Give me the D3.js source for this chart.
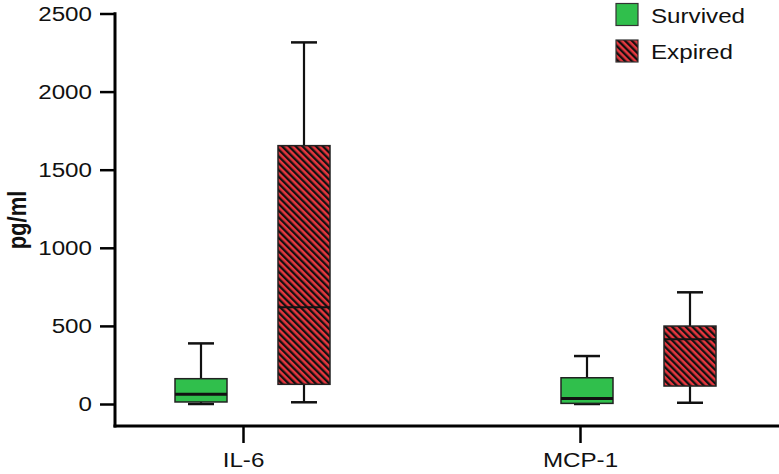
<!DOCTYPE html>
<html>
<head>
<meta charset="utf-8">
<script src="https://cdn.jsdelivr.net/npm/d3@7"></script>
<style>
  body { margin: 0; background: #fff; }
  svg { display: block; font-family: "Liberation Sans", Arial, sans-serif; }
</style>
</head>
<body>
<div id="chart"></div>
<script>
const width = 779;
const height = 474;

// data (pg/ml)
const categories = ['IL-6', 'MCP-1'];
const series = ['Survived', 'Expired'];
const yTicks = [0, 500, 1000, 1500, 2000, 2500];
// [min, q1, median, q3, max] per category
const survived = [[0, 13, 62, 162, 388], [0, 4, 36, 168, 307]];
const expired = [[11, 126, 619, 1654, 2315], [8, 115, 414, 499, 715]];

const colors = { Survived: '#30bf4c', Expired: '#e6373e' };
const stretch = 1.18; // the picture's text is a bit wide
const fontSize = 20.5;

const svg = d3.select('#chart')
  .append('svg')
  .attr('width', width)
  .attr('height', height);

// hatch for the expired boxes
const defs = svg.append('defs');
const pat = defs.append('pattern')
  .attr('id', 'hatch')
  .attr('patternUnits', 'userSpaceOnUse')
  .attr('width', 4.8)
  .attr('height', 10)
  .attr('patternTransform', 'rotate(-45)');
pat.append('rect').attr('width', 4.8).attr('height', 10).attr('fill', colors.Expired);
pat.append('rect').attr('width', 2.3).attr('height', 10).attr('fill', '#111');

const yScale = d3.scaleLinear().domain([0, 2500]).range([404, 13.5]);
const xTick = d3.scalePoint().domain(categories).range([243, 580]);
const xGroup = d3.scalePoint().domain(categories).range([252.5, 638.5]);
const xSub = d3.scalePoint().domain(series).range([-51.5, 51.5]);
const boxW = 52;

// y axis
const yAxis = svg.append('g')
  .attr('transform', 'translate(115,0)')
  .call(d3.axisLeft(yScale).tickValues(yTicks).tickFormat(d3.format('d')).tickSize(15).tickPadding(0));
yAxis.select('.domain').remove();
yAxis.selectAll('.tick line').attr('stroke', '#000').attr('stroke-width', 2.5);
yAxis.selectAll('.tick text')
  .attr('x', -23 / stretch)
  .attr('transform', `scale(${stretch},1)`)
  .attr('font-size', fontSize)
  .attr('fill', '#111');
svg.append('line')
  .attr('x1', 115).attr('x2', 115)
  .attr('y1', yScale(2500) - 1.2).attr('y2', 427.5)
  .attr('stroke', '#000').attr('stroke-width', 3);

// x axis
const xAxis = svg.append('g')
  .attr('transform', 'translate(0,426)')
  .call(d3.axisBottom(xTick).tickSize(17).tickPadding(0));
xAxis.select('.domain').remove();
xAxis.selectAll('.tick line').attr('stroke', '#000').attr('stroke-width', 2.5);
xAxis.selectAll('.tick text')
  .attr('y', 41).attr('dy', 0)
  .attr('transform', `scale(${stretch},1)`)
  .attr('font-size', fontSize)
  .attr('fill', '#111');
svg.append('line')
  .attr('x1', 113.5).attr('x2', width)
  .attr('y1', 426).attr('y2', 426)
  .attr('stroke', '#000').attr('stroke-width', 3);

// y label
svg.append('text')
  .attr('transform', `translate(17,220) scale(${stretch},1) rotate(-90)`)
  .attr('text-anchor', 'middle')
  .attr('dy', '0.35em')
  .attr('font-size', 22)
  .attr('font-weight', 'bold')
  .attr('fill', '#111')
  .text('pg/ml');

// boxes
const boxes = [];
categories.forEach((c, i) => {
  boxes.push({ cat: c, s: 'Survived', v: survived[i] });
  boxes.push({ cat: c, s: 'Expired', v: expired[i] });
});

const g = svg.append('g').selectAll('g').data(boxes).join('g')
  .attr('transform', (d) => `translate(${xGroup(d.cat) + xSub(d.s)},0)`);

// whiskers
g.append('line')
  .attr('y1', (d) => yScale(d.v[4])).attr('y2', (d) => yScale(d.v[3]))
  .attr('stroke', '#111').attr('stroke-width', 2.2);
g.append('line')
  .attr('y1', (d) => yScale(d.v[1])).attr('y2', (d) => yScale(d.v[0]))
  .attr('stroke', '#111').attr('stroke-width', 2.2);
g.append('line')
  .attr('x1', -boxW / 4).attr('x2', boxW / 4)
  .attr('y1', (d) => yScale(d.v[4])).attr('y2', (d) => yScale(d.v[4]))
  .attr('stroke', '#111').attr('stroke-width', 2.5);
g.append('line')
  .attr('x1', -boxW / 4).attr('x2', boxW / 4)
  .attr('y1', (d) => yScale(d.v[0])).attr('y2', (d) => yScale(d.v[0]))
  .attr('stroke', '#111').attr('stroke-width', 2.5);

g.append('rect')
  .attr('x', -boxW / 2)
  .attr('width', boxW)
  .attr('y', (d) => yScale(d.v[3]))
  .attr('height', (d) => yScale(d.v[1]) - yScale(d.v[3]))
  .attr('fill', (d) => d.s === 'Expired' ? 'url(#hatch)' : colors.Survived)
  .attr('stroke', '#222')
  .attr('stroke-width', 1.5);

g.append('line')
  .attr('x1', -boxW / 2).attr('x2', boxW / 2)
  .attr('y1', (d) => yScale(d.v[2])).attr('y2', (d) => yScale(d.v[2]))
  .attr('stroke', '#111').attr('stroke-width', (d) => d.s === 'Survived' ? 3 : 2);

// legend
const legend = svg.append('g').selectAll('g').data(series).join('g')
  .attr('transform', (d, i) => `translate(616,${3.5 + i * 36.5})`);
legend.append('rect')
  .attr('width', 22).attr('height', 22)
  .attr('fill', (d) => d === 'Expired' ? 'url(#hatch)' : colors.Survived)
  .attr('stroke', '#333').attr('stroke-width', 1.2);
legend.append('text')
  .attr('transform', `translate(35,19) scale(${stretch},1)`)
  .attr('font-size', fontSize)
  .attr('fill', '#111')
  .text((d) => d);
</script>
</body>
</html>
